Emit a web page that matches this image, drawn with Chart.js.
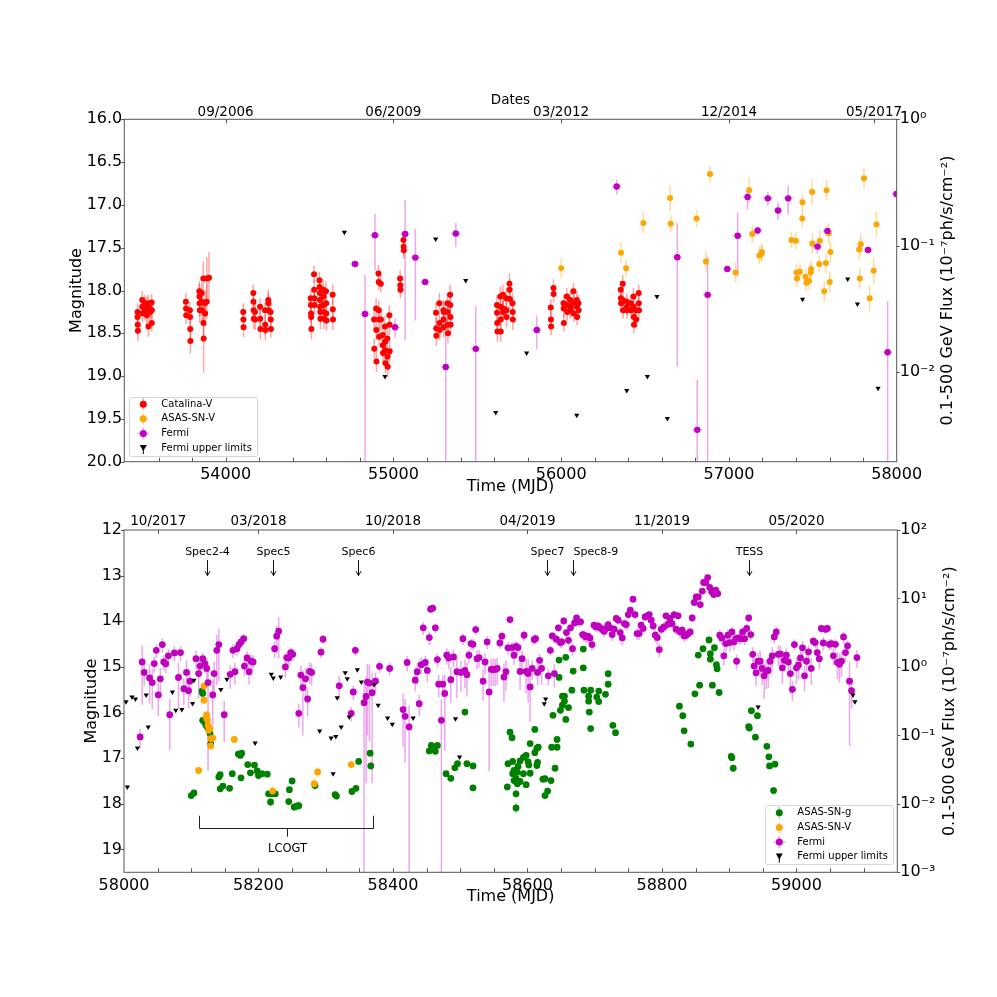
<!DOCTYPE html>
<html>
<head>
<meta charset="utf-8">
<title>Light curves</title>
<script src="https://cdn.jsdelivr.net/npm/chart.js@4.4.1/dist/chart.umd.min.js"></script>
<style>
  html, body { margin: 0; padding: 0; background: #fff; }
  #wrap { position: relative; width: 997px; height: 997px; background: #fff; }
  canvas { position: absolute; left: 0; }
  #topChart { top: 0; }
  #bottomChart { top: 500px; }
</style>
</head>
<body>
<div id="wrap">
  <canvas id="topChart" width="997" height="500"></canvas>
  <canvas id="bottomChart" width="997" height="497"></canvas>
</div>
<script>
Chart.defaults.font.family = "'DejaVu Sans', sans-serif";
Chart.defaults.color = '#000';

// ---------- axes ----------
const topMjdTicks = [54000, 55000, 56000, 57000, 58000];
const topDateTicks = [54000, 55000, 56000, 57000, 57865];
const topDateLabels = ['09/2006', '06/2009', '03/2012', '12/2014', '05/2017'];
const topMagTicks = [16, 16.5, 17, 17.5, 18, 18.5, 19, 19.5, 20];
const topFluxTicks = [1, 0.1, 0.01];

const bottomMjdTicks = [58000, 58200, 58400, 58600, 58800, 59000];
const bottomDateTicks = [58051, 58200, 58400, 58600, 58800, 59000];
const bottomDateLabels = ['10/2017', '03/2018', '10/2018', '04/2019', '11/2019', '05/2020'];
const bottomMagTicks = [12, 13, 14, 15, 16, 17, 18, 19];
const bottomFluxTicks = [100, 10, 1, 0.1, 0.01, 0.001];

// ---------- top panel: 2005-2017 ----------
// [MJD, magnitude, error]
const catalinaV = [
  [53475,18.25,0.1],[53475,18.31,0.1],[53476,18.40,0.12],[53477,18.47,0.12],
  [53503,18.11,0.1],[53503,18.19,0.1],[53504,18.27,0.1],[53519,18.15,0.1],[53520,18.23,0.12],
  [53529,18.17,0.1],[53529,18.23,0.1],[53530,18.29,0.12],[53539,18.15,0.1],[53540,18.42,0.12],
  [53549,18.21,0.1],[53550,18.25,0.12],[53559,18.14,0.1],[53560,18.23,0.1],[53560,18.38,0.1],
  [53763,18.13,0.1],[53764,18.21,0.1],[53765,18.29,0.1],
  [53787,18.23,0.1],[53788,18.31,0.1],[53789,18.45,0.12],[53790,18.59,0.15],
  [53843,18.01,0.12],[53844,18.07,0.15],[53845,18.15,0.15],[53846,18.23,0.15],
  [53857,18.03,0.12],[53858,18.13,0.15],[53859,18.23,0.15],
  [53867,17.86,0.2],[53868,18.38,0.2],[53869,18.56,0.4],
  [53877,18.15,0.15],[53878,18.27,0.15],[53887,18.13,0.2],[53888,17.86,0.25],[53901,17.85,0.3],
  [54105,18.25,0.1],[54106,18.34,0.1],[54107,18.43,0.12],
  [54165,18.03,0.1],[54166,18.13,0.12],[54167,18.23,0.12],[54168,18.33,0.12],
  [54175,18.25,0.1],[54176,18.34,0.12],
  [54205,18.19,0.1],[54206,18.33,0.12],[54207,18.45,0.12],
  [54235,18.23,0.1],[54236,18.40,0.12],[54237,18.46,0.12],
  [54254,18.11,0.12],[54255,18.15,0.12],[54256,18.23,0.1],
  [54268,18.25,0.1],[54269,18.34,0.1],[54270,18.45,0.1],
  [54507,18.09,0.1],[54508,18.17,0.1],[54509,18.27,0.1],[54510,18.31,0.12],[54511,18.45,0.12],
  [54527,17.81,0.1],[54528,17.99,0.12],[54529,18.09,0.12],[54530,18.17,0.12],
  [54559,17.88,0.1],[54560,17.96,0.1],[54561,18.03,0.12],[54562,18.11,0.12],[54563,18.19,0.12],[54564,18.25,0.12],[54565,18.33,0.12],
  [54582,17.99,0.12],[54583,18.07,0.12],[54584,18.17,0.12],[54585,18.25,0.12],[54586,18.33,0.12],
  [54598,18.01,0.12],[54599,18.15,0.12],[54600,18.27,0.12],[54601,18.35,0.12],
  [54638,18.05,0.12],[54639,18.22,0.12],[54640,18.34,0.12],
  [54885,18.34,0.12],[54886,18.68,0.12],[54897,18.21,0.12],[54898,18.46,0.12],[54899,18.83,0.12],
  [54911,17.80,0.1],[54912,17.90,0.1],[54913,18.23,0.12],[54914,18.34,0.12],[54915,18.54,0.12],
  [54925,17.92,0.1],[54926,18.34,0.12],[54936,18.52,0.12],[54937,18.64,0.12],[54938,18.73,0.12],
  [54950,18.42,0.12],[54951,18.60,0.12],[54952,18.70,0.12],[54953,18.85,0.12],
  [54964,18.56,0.12],[54965,18.77,0.12],[54966,18.89,0.12],
  [54976,18.29,0.12],[54977,18.40,0.12],[54978,18.71,0.12],
  [55040,17.86,0.1],[55041,17.94,0.1],[55042,17.99,0.1],
  [55060,17.41,0.1],[55061,17.49,0.1],[55062,17.53,0.1],
  [55254,18.26,0.12],[55255,18.44,0.12],[55256,18.53,0.12],
  [55274,18.15,0.12],[55275,18.38,0.12],[55276,18.46,0.12],
  [55298,18.23,0.12],[55299,18.34,0.12],[55300,18.43,0.12],[55301,18.25,0.12],
  [55322,18.15,0.12],[55323,18.25,0.12],[55324,18.40,0.12],[55325,18.50,0.12],
  [55338,18.05,0.12],[55339,18.17,0.12],[55340,18.31,0.12],[55341,18.40,0.12],
  [55617,18.17,0.12],[55618,18.26,0.12],[55619,18.38,0.12],[55620,18.48,0.12],
  [55637,18.07,0.12],[55638,18.19,0.12],[55639,18.34,0.12],[55640,18.48,0.12],
  [55653,18.05,0.12],[55654,18.21,0.12],[55655,18.25,0.12],
  [55673,18.09,0.12],[55674,18.23,0.12],[55675,18.31,0.12],
  [55692,17.92,0.12],[55693,17.99,0.12],[55694,18.10,0.12],
  [55710,18.15,0.12],[55711,18.25,0.12],[55712,18.34,0.12],
  [55938,18.20,0.1],[55939,18.34,0.1],[55940,18.42,0.1],[55954,17.97,0.1],[55955,18.04,0.1],
  [56014,18.15,0.1],[56015,18.21,0.1],[56016,18.38,0.1],
  [56034,18.07,0.1],[56035,18.17,0.1],[56036,18.25,0.1],
  [56054,18.11,0.1],[56055,18.19,0.1],[56056,18.23,0.1],
  [56073,18.01,0.1],[56074,18.15,0.1],[56075,18.27,0.1],
  [56093,18.11,0.1],[56094,18.19,0.1],[56095,18.31,0.1],[56103,18.15,0.1],[56104,18.23,0.1],
  [56355,17.99,0.1],[56356,18.09,0.1],[56357,18.15,0.1],
  [56367,17.92,0.1],[56368,18.11,0.1],[56369,18.23,0.1],
  [56391,18.13,0.1],[56392,18.19,0.1],[56393,18.23,0.1],[56415,18.15,0.1],[56416,18.23,0.1],
  [56431,18.07,0.1],[56432,18.19,0.1],[56433,18.31,0.1],[56434,18.40,0.1],
  [56446,18.23,0.1],[56447,18.34,0.1],[56462,18.03,0.1],[56463,18.15,0.1],[56464,18.23,0.1]
];

const asassnVTop = [
  [56000,17.74,0.12],[56357,17.56,0.12],[56387,17.74,0.1],[56490,17.21,0.12],
  [56649,16.92,0.15],[56653,17.22,0.1],[56807,17.16,0.1],[56863,17.66,0.12],[56887,16.64,0.1],
  [57040,17.79,0.12],[57121,16.83,0.15],[57139,17.34,0.1],[57181,17.59,0.1],[57194,17.57,0.1],[57196,17.55,0.1],
  [57373,17.41,0.1],[57399,17.42,0.1],[57403,17.79,0.1],[57406,17.86,0.1],[57423,17.78,0.1],
  [57437,17.16,0.1],[57438,16.97,0.1],[57456,17.84,0.1],[57462,17.91,0.1],[57478,17.89,0.1],
  [57488,17.79,0.1],[57490,17.75,0.1],[57496,16.85,0.15],[57497,17.45,0.12],
  [57538,17.69,0.1],[57542,17.42,0.12],[57568,18.01,0.12],[57578,17.68,0.12],[57582,16.83,0.12],
  [57595,17.33,0.12],[57601,17.90,0.12],[57605,17.55,0.12],
  [57776,17.52,0.12],[57780,17.86,0.12],[57786,17.46,0.12],[57805,16.69,0.12],
  [57839,18.09,0.15],[57863,17.77,0.15],[57879,17.23,0.15]
];

// [MJD, flux (1e-7 ph/s/cm2), error]
const fermiTop = [
  [54771,0.0718,0.004],[54831,0.0289,0.030],[54890,0.121,0.057],[55010,0.0227,0.004],
  [55070,0.124,0.106],[55131,0.0806,0.055],[55189,0.0518,0.003],[55312,0.0110,0.022],
  [55372,0.125,0.027],[55491,0.0153,0.018],[55855,0.0216,0.0065],[56331,0.294,0.040],
  [56692,0.0811,0.070],[56811,0.0035,0.0052],[56873,0.0409,0.041],[56990,0.0656,0.004],
  [57052,0.120,0.063],[57111,0.243,0.050],[57171,0.132,0.010],[57232,0.237,0.030],
  [57293,0.190,0.030],[57353,0.237,0.060],[57528,0.0985,0.012],[57587,0.131,0.006],
  [57829,0.0927,0.005],[57946,0.0144,0.022],[57998,0.257,0.010]
];
const fermiTopHalfBin = 28;

// [MJD, flux upper limit]
const fermiLimitsTop = [
  [54708,0.128],[54950,0.00924],[55252,0.113],[55431,0.053],[55610,0.0048],[55794,0.0142],
  [56093,0.00457],[56391,0.00716],[56514,0.00924],[56571,0.0397],[56633,0.0043],
  [57439,0.0378],[57708,0.0547],[57766,0.0347],[57889,0.00747]
];

// ---------- bottom panel: 2017-2020 ----------
const asassnG = [
  [58100,17.82,0.08],[58104,17.76,0.06],[58116,15.53,0.05],[58117,15.58,0.05],
  [58117,16.17,0.05],[58120,16.21,0.05],[58122,16.28,0.05],[58125,16.35,0.05],[58128,16.46,0.05],[58129,16.68,0.05],
  [58141,17.41,0.06],[58143,17.36,0.06],[58143,17.67,0.06],[58147,17.61,0.06],
  [58157,17.66,0.07],[58161,17.34,0.05],[58170,16.91,0.05],[58173,16.94,0.05],[58175,16.89,0.05],[58174,17.43,0.05],
  [58184,17.14,0.05],[58188,17.32,0.05],[58194,17.15,0.05],[58198,17.28,0.05],[58200,17.38,0.05],[58205,17.34,0.05],
  [58213,17.35,0.05],[58215,17.78,0.06],[58218,17.96,0.1],[58220,17.78,0.06],[58225,17.78,0.06],
  [58245,17.95,0.08],[58246,17.69,0.06],[58250,17.50,0.06],[58253,18.07,0.1],[58257,18.05,0.1],[58260,18.04,0.1],
  [58284,17.60,0.08],[58314,17.80,0.08],[58316,17.83,0.08],[58339,17.73,0.07],[58345,17.66,0.07],
  [58349,17.07,0.06],[58366,16.89,0.06],[58367,17.17,0.07],
  [58454,16.84,0.06],[58457,16.72,0.06],[58460,16.78,0.06],[58463,16.85,0.06],[58466,16.72,0.06],
  [58479,17.34,0.06],[58486,17.44,0.06],[58492,17.21,0.06],[58496,17.12,0.06],[58507,15.99,0.05],
  [58510,17.12,0.05],[58519,17.17,0.05],[58519,17.65,0.07],
  [58570,17.63,0.07],[58571,17.12,0.06],[58574,16.43,0.05],[58577,16.55,0.05],
  [58578,17.34,0.06],[58578,17.07,0.06],[58580,17.49,0.08],[58580,17.27,0.06],
  [58583,17.45,0.07],[58583,17.78,0.08],[58583,18.09,0.12],[58585,17.56,0.07],[58585,17.31,0.06],[58586,17.18,0.06],
  [58589,17.06,0.06],[58589,17.51,0.07],[58594,17.34,0.06],[58594,16.98,0.06],
  [58598,16.94,0.06],[58598,17.58,0.07],[58601,17.08,0.06],[58602,17.15,0.06],
  [58604,16.68,0.05],[58604,17.33,0.06],[58611,16.37,0.05],[58611,16.88,0.05],
  [58614,16.78,0.05],[58614,17.16,0.06],[58615,17.09,0.06],[58616,16.76,0.05],
  [58623,17.46,0.07],[58626,17.45,0.07],[58626,17.82,0.08],[58630,17.72,0.08],
  [58635,17.49,0.07],[58636,16.76,0.05],[58638,16.06,0.05],[58641,17.22,0.06],
  [58644,16.76,0.05],[58644,16.59,0.05],[58647,14.85,0.04],[58647,15.23,0.04],[58649,15.95,0.05],
  [58652,15.84,0.05],[58652,15.64,0.05],[58655,15.75,0.05],[58655,15.64,0.05],
  [58657,14.79,0.04],[58657,16.15,0.05],[58661,15.89,0.05],[58666,15.51,0.04],[58668,15.09,0.04],
  [58683,14.61,0.04],[58683,15.02,0.04],[58684,15.51,0.04],
  [58691,15.75,0.05],[58691,15.64,0.05],[58692,15.99,0.05],[58694,15.51,0.05],[58694,16.35,0.05],
  [58703,15.66,0.05],[58706,15.76,0.05],[58706,15.53,0.05],[58716,15.60,0.05],
  [58720,15.38,0.05],[58720,15.15,0.05],[58727,16.28,0.05],[58731,16.44,0.06],
  [58826,15.86,0.05],[58831,16.07,0.05],[58833,16.40,0.05],[58843,16.69,0.05],
  [58849,15.59,0.04],[58854,14.74,0.04],[58856,15.40,0.04],[58861,14.60,0.04],
  [58870,14.41,0.04],[58872,14.83,0.04],[58872,14.71,0.04],[58875,15.40,0.04],[58878,14.58,0.04],
  [58881,14.95,0.04],[58882,15.04,0.04],[58885,15.56,0.04],
  [58903,16.96,0.05],[58904,16.99,0.05],[58906,17.22,0.06],
  [58929,16.31,0.05],[58930,16.34,0.05],[58933,15.96,0.05],[58939,16.54,0.05],[58942,16.07,0.05],
  [58956,16.74,0.05],[58959,16.97,0.05],[58960,17.17,0.06],[58966,17.71,0.08],[58968,17.13,0.06]
];

const asassnVBottom = [
  [58111,17.27,0.08],[58119,15.42,0.06],[58119,15.73,0.06],[58122,16.10,0.08],[58123,16.05,0.08],
  [58124,16.16,0.08],[58125,16.28,0.08],[58126,16.39,0.08],[58128,16.35,0.08],[58129,16.57,0.08],
  [58129,16.73,0.08],[58132,16.56,0.08],[58164,16.59,0.07],[58221,17.72,0.12],
  [58283,17.56,0.12],[58288,17.30,0.1],[58338,17.14,0.08]
];

const fermiBottom = [
  [58024,0.095,0.03],[58027,1.18,0.9],[58030,0.83,0.3],[58038,0.69,0.4],[58042,0.59,0.35],
  [58045,1.12,0.3],[58048,1.75,0.4],[58051,0.39,0.2],[58054,0.67,0.3],[58057,2.12,0.5],
  [58059,1.18,0.3],[58062,1.11,0.3],[58066,1.45,0.4],[58068,0.20,0.14],[58075,1.60,0.4],
  [58081,0.70,0.45],[58084,1.62,0.4],[58089,0.48,0.2],[58093,0.83,0.4],[58096,0.45,0.2],
  [58098,0.62,0.25],[58107,1.32,0.4],[58111,0.80,0.45],[58113,1.03,0.3],[58117,1.32,0.3],
  [58120,1.12,0.3],[58123,0.95,0.4],[58125,0.59,0.56],[58132,0.39,0.25],[58134,0.80,0.4],
  [58138,1.75,1.2],[58141,2.12,1.5],[58149,0.20,0.12],[58158,0.78,0.3],[58162,1.75,0.4],
  [58165,0.85,0.3],[58168,1.85,0.4],[58171,2.12,0.4],[58174,2.32,0.4],[58178,2.59,0.4],
  [58179,1.03,0.3],[58183,1.35,0.35],[58186,0.85,0.3],[58189,1.21,0.3],[58192,1.18,0.3],
  [58224,1.85,0.5],[58227,2.81,1.2],[58230,3.32,2.0],[58240,1.00,0.3],[58242,1.37,0.3],
  [58245,1.35,0.3],[58248,1.62,0.3],[58251,1.53,0.3],[58260,0.21,0.08],[58263,0.76,0.3],
  [58266,0.50,0.4],[58270,0.67,0.3],[58273,0.34,0.15],[58276,0.86,0.3],[58279,0.83,0.3],
  [58293,1.64,0.3],[58296,2.54,0.4],[58320,0.53,0.2],[58338,0.21,0.05],[58341,0.43,0.1],
  [58344,1.75,0.3],[58357,0.30,0.3],[58360,0.37,0.35],[58362,0.60,0.5],[58365,0.58,0.5],
  [58369,0.42,0.4],[58374,0.62,0.2],[58380,1.02,0.2],[58395,0.95,0.2],
  [58415,0.238,0.17],[58418,0.19,0.15],[58421,1.16,0.3],[58424,0.133,0.14],[58433,0.64,0.2],
  [58436,0.85,0.3],[58439,0.29,0.1],[58442,1.08,0.3],[58445,3.72,0.8],[58448,1.16,0.3],
  [58451,0.89,0.3],[58454,2.68,0.6],[58456,6.97,0.8],[58459,7.2,0.8],[58463,3.72,0.6],
  [58466,1.28,0.3],[58468,0.56,0.2],[58472,0.166,0.17],[58474,0.56,0.2],[58477,0.41,0.35],
  [58480,1.48,0.4],[58483,1.35,0.4],[58486,0.65,0.35],[58490,1.40,0.4],[58495,0.85,0.5],
  [58501,0.83,0.4],[58504,2.59,0.5],[58507,0.89,0.4],[58510,0.77,0.4],[58513,1.48,0.3],
  [58516,2.19,0.4],[58519,2.14,0.4],[58523,3.51,0.6],[58525,1.32,0.4],[58528,1.37,0.4],
  [58534,0.62,0.3],[58537,1.18,0.4],[58540,2.32,0.5],[58543,0.43,0.4],[58546,0.92,0.4],
  [58549,0.92,0.4],[58552,0.92,0.4],[58555,0.95,0.4],[58559,2.24,0.4],[58562,2.81,0.5],
  [58565,0.71,0.4],[58568,0.85,0.4],[58571,1.90,0.4],[58574,4.92,0.6],[58577,1.92,0.4],
  [58580,1.48,0.4],[58583,2.00,0.4],[58586,1.92,0.4],[58589,0.86,0.4],[58592,1.32,0.4],
  [58595,2.90,0.5],[58598,0.86,0.45],[58601,0.80,0.5],[58604,0.51,0.35],[58607,0.95,0.3],
  [58610,2.51,0.4],[58612,2.59,0.4],[58615,0.83,0.3],[58618,1.25,0.3],[58621,0.95,0.4],
  [58631,0.74,0.2],[58634,1.75,0.3],[58637,2.84,0.4],[58640,0.80,0.3],[58643,2.54,0.4],
  [58646,3.72,0.5],[58649,2.27,0.4],[58651,2.32,0.4],[58654,4.70,0.6],[58658,3.17,0.5],
  [58661,2.45,0.4],[58664,3.72,0.5],[58667,1.85,0.4],[58670,4.39,0.6],[58673,5.20,0.6],
  [58676,4.55,0.6],[58679,4.55,0.6],[58682,2.97,0.5],[58684,2.90,0.5],[58687,2.74,0.5],
  [58690,2.80,0.5],[58693,2.65,0.5],[58696,2.12,0.4],[58699,4.06,0.6],[58702,3.84,0.6],
  [58705,3.97,0.6],[58708,3.72,0.6],[58711,3.55,0.6],[58714,3.32,0.6],[58717,3.65,0.6],
  [58720,4.16,0.6],[58723,3.72,0.6],[58726,2.97,0.6],[58729,3.55,0.6],[58732,5.10,0.7],
  [58735,4.81,0.7],[58738,3.17,0.6],[58741,2.65,0.6],[58744,4.29,0.7],[58747,4.16,0.7],
  [58750,5.82,0.8],[58753,6.74,0.8],[58757,9.75,1.0],[58760,5.82,0.8],[58763,3.07,0.6],
  [58766,3.07,0.6],[58769,4.06,0.6],[58772,3.65,0.6],[58775,5.38,0.7],[58778,5.50,0.7],
  [58781,5.82,0.7],[58784,4.81,0.7],[58787,3.97,0.6],[58790,2.90,0.6],[58793,2.68,0.6],
  [58796,1.79,0.4],[58799,3.55,0.6],[58803,3.84,0.6],[58806,5.57,0.7],[58809,4.21,0.6],
  [58812,5.10,0.7],[58815,4.29,0.6],[58818,5.82,0.7],[58821,3.55,0.6],[58824,5.57,0.7],
  [58827,3.25,0.6],[58830,3.44,0.6],[58833,2.84,0.5],[58836,2.90,0.5],[58839,3.07,0.5],
  [58842,3.25,0.5],[58845,5.20,0.7],[58848,8.73,1.0],[58851,10.5,1.2],[58854,10.5,1.2],
  [58857,8.14,1.0],[58860,12.8,1.3],[58862,17.1,1.5],[58865,17.1,1.5],[58868,20.2,1.8],
  [58871,14.5,1.5],[58874,12.5,1.3],[58877,11.4,1.2],[58880,13.2,1.3],[58883,11.8,1.2],
  [58886,2.90,0.6],[58889,2.65,0.6],[58892,1.45,0.4],[58895,2.19,0.6],[58898,2.90,0.6],
  [58901,2.27,0.6],[58904,3.25,0.6],[58907,2.32,0.6],[58910,2.59,0.5],[58911,1.21,0.3],
  [58914,2.65,0.5],[58917,2.59,0.5],[58920,3.25,0.5],[58923,2.59,0.5],[58926,3.64,0.6],
  [58929,5.20,0.7],[58932,2.97,0.5],[58935,1.53,0.4],[58937,1.03,0.3],[58940,0.82,0.3],
  [58943,1.21,0.4],[58946,1.21,0.5],[58949,0.95,0.4],[58952,0.74,0.4],[58955,0.87,0.4],
  [58958,0.89,0.4],[58961,1.21,0.4],[58964,1.45,0.5],[58967,2.74,0.5],[58970,3.25,0.6],
  [58973,1.53,0.5],[58976,1.55,0.5],[58979,0.97,0.4],[58982,1.25,0.4],[58985,1.48,0.4],
  [58988,1.18,0.4],[58991,0.80,0.4],[58994,0.47,0.15],[58997,2.12,0.4],[59000,0.97,0.4],
  [59003,1.06,0.4],[59006,1.35,0.4],[59009,1.90,0.5],[59012,0.74,0.3],[59015,1.21,0.4],
  [59018,1.66,0.4],[59022,0.95,0.4],[59025,2.37,0.4],[59028,2.27,0.4],[59031,1.62,0.4],
  [59034,1.32,0.4],[59037,3.64,0.5],[59040,2.24,0.5],[59043,3.55,0.5],[59046,3.64,0.5],
  [59049,2.14,0.4],[59052,2.19,0.4],[59055,1.45,0.4],[59058,2.14,0.4],[59061,1.16,0.5],
  [59064,1.09,0.5],[59067,1.21,0.5],[59070,2.74,0.5],[59073,1.62,0.4],[59076,2.03,0.4],
  [59079,0.62,0.55],[59082,0.45,0.2],[59090,1.37,0.4]
];

const fermiLimitsBottom = [
  [58003,0.31],[58005,0.0176],[58012,0.364],[58017,0.34],[58020,0.0654],[58033,0.39],[58036,0.133],
  [58072,0.43],[58077,0.232],[58086,0.238],[58102,0.291],[58104,0.64],[58144,0.466],[58153,0.66],
  [58195,0.0774],[58219,0.78],[58222,0.69],[58233,0.71],[58291,0.116],[58308,0.0916],[58311,0.0276],
  [58315,0.096],[58317,0.356],[58323,0.133],[58329,0.82],[58332,0.67],[58335,0.186],[58347,0.91],
  [58353,0.60],[58372,0.55],[58378,0.275],[58392,0.18],[58399,0.145],[58430,0.18],[58493,0.175],
  [58499,0.0483],[58625,0.29],[58627,0.34],[58943,0.26],[59084,0.39],[59087,0.31]
];

const specEpochs = [58123, 58222, 58348, 58629, 58668, 58930];
const specLabels = ['Spec2-4', 'Spec5', 'Spec6', 'Spec7', 'Spec8-9', 'TESS'];
const lcogtSpan = [58111, 58370];

// ---------- styling ----------
const COLORS = {
  catalina: '#ff0000', catalinaErr: 'rgba(255,0,0,0.35)',
  asasV: '#ffa500', asasVErr: 'rgba(255,165,0,0.4)',
  asasG: '#008000', asasGErr: 'rgba(0,128,0,0.35)',
  fermi: '#bf00bf', fermiErr: 'rgba(204,0,204,0.35)',
  limit: '#000000',
  spine: '#555555'
};
const FLUX_TITLE = '0.1-500 GeV Flux (10\u207B\u2077ph/s/cm\u207B\u00B2)';
const SUP = { '-': '\u207B', '0': '\u2070', '1': '\u00B9', '2': '\u00B2', '3': '\u00B3' };
const powerLabel = v => '10' + String(Math.round(Math.log10(v))).split('').map(c => SUP[c]).join('');

function pointSet(label, rows, color, errColor, radius, axis, order, halfBin) {
  return {
    label, yAxisID: axis, order, clip: 0,
    data: rows.map(([x, y, err]) => ({ x, y, err, xerr: halfBin || 0 })),
    pointRadius: radius, pointBackgroundColor: color, pointBorderWidth: 0,
    errColor, legendCross: !!halfBin || axis === 'y2'
  };
}

function limitSet(label, rows, radius) {
  return {
    label, yAxisID: 'y2', order: 1, clip: 0,
    data: rows.map(([x, y]) => ({ x, y })),
    pointStyle: 'triangle', pointRotation: 180, pointRadius: radius,
    pointBackgroundColor: COLORS.limit, pointBorderWidth: 0
  };
}

// error bars under the markers, clipped to the plot area
const errorBars = {
  id: 'errorBars',
  beforeDatasetsDraw(chart) {
    const { ctx, chartArea: a } = chart;
    const xs = chart.scales.x;
    ctx.save();
    ctx.beginPath();
    ctx.rect(a.left, a.top, a.right - a.left, a.bottom - a.top);
    ctx.clip();
    ctx.lineWidth = 1.5;
    chart.data.datasets.forEach(ds => {
      if (!ds.errColor) return;
      const ys = chart.scales[ds.yAxisID];
      ctx.strokeStyle = ds.errColor;
      ds.data.forEach(p => {
        const px = xs.getPixelForValue(p.x);
        const py = ys.getPixelForValue(p.y);
        ctx.beginPath();
        if (p.err) {
          const lo = p.y - p.err;
          const yLo = (ys.type === 'logarithmic' && lo <= 0) ? a.bottom + 10 : ys.getPixelForValue(lo);
          ctx.moveTo(px, yLo);
          ctx.lineTo(px, ys.getPixelForValue(p.y + p.err));
        }
        if (p.xerr) {
          ctx.moveTo(xs.getPixelForValue(p.x - p.xerr), py);
          ctx.lineTo(xs.getPixelForValue(p.x + p.xerr), py);
        }
        ctx.stroke();
      });
    });
    ctx.restore();
  }
};

// spines, tick marks and the right-hand axis title
const frame = {
  id: 'frame',
  afterDraw(chart, args, o) {
    const { ctx, chartArea: a, scales } = chart;
    ctx.save();
    ctx.strokeStyle = COLORS.spine;
    ctx.lineWidth = 1;
    ctx.strokeRect(a.left, a.top, a.right - a.left, a.bottom - a.top);
    ctx.beginPath();
    for (let v = o.minorStart; v < scales.x.max; v += o.minorStep) {
      const px = Math.round(scales.x.getPixelForValue(v)) + 0.5;
      ctx.moveTo(px, a.bottom);
      ctx.lineTo(px, a.bottom - 4);
    }
    scales.xTop.ticks.forEach(t => {
      const px = Math.round(scales.xTop.getPixelForValue(t.value)) + 0.5;
      ctx.moveTo(px, a.top);
      ctx.lineTo(px, a.top + 4);
    });
    scales.y.ticks.forEach(t => {
      const py = Math.round(scales.y.getPixelForValue(t.value)) + 0.5;
      ctx.moveTo(a.left - 3, py);
      ctx.lineTo(a.left, py);
    });
    scales.y2.ticks.forEach(t => {
      const py = Math.round(scales.y2.getPixelForValue(t.value)) + 0.5;
      ctx.moveTo(a.right, py);
      ctx.lineTo(a.right + 3, py);
    });
    ctx.stroke();

    ctx.translate(o.rightTitleX, (a.top + a.bottom) / 2);
    ctx.rotate(-Math.PI / 2);
    ctx.font = "16px 'DejaVu Sans'";
    ctx.fillStyle = '#000';
    ctx.textAlign = 'center';
    ctx.textBaseline = 'middle';
    ctx.fillText(FLUX_TITLE, 0, 0);
    ctx.restore();
  }
};

// framed legend in a corner of the plot area
const boxLegend = {
  id: 'boxLegend',
  afterDraw(chart, args, o) {
    const { ctx, chartArea: a } = chart;
    const w = 128, h = 59, rowH = 14.6;
    const x0 = o.side === 'left' ? a.left + 5 : a.right - 4 - w;
    const y0 = a.bottom - o.gap - h;
    ctx.save();
    ctx.globalAlpha = 0.8;
    ctx.fillStyle = '#fff';
    ctx.strokeStyle = '#cccccc';
    ctx.lineWidth = 1;
    ctx.beginPath();
    ctx.roundRect(Math.round(x0) + 0.5, Math.round(y0) + 0.5, w, h, 2);
    ctx.fill();
    ctx.stroke();
    ctx.globalAlpha = 1;
    ctx.font = "10px 'DejaVu Sans'";
    ctx.textBaseline = 'middle';
    ctx.textAlign = 'left';
    chart.data.datasets.forEach((ds, i) => {
      const cy = y0 + 7.5 + i * rowH;
      const cx = x0 + 14;
      if (ds.errColor) {
        ctx.strokeStyle = ds.errColor;
        ctx.lineWidth = 1.5;
        ctx.beginPath();
        ctx.moveTo(cx, cy - 6);
        ctx.lineTo(cx, cy + 6);
        if (ds.legendCross) {
          ctx.moveTo(cx - 6, cy);
          ctx.lineTo(cx + 6, cy);
        }
        ctx.stroke();
      }
      ctx.fillStyle = ds.pointBackgroundColor;
      ctx.beginPath();
      if (ds.pointStyle === 'triangle') {
        ctx.strokeStyle = '#000';
        ctx.lineWidth = 1;
        ctx.moveTo(cx, cy);
        ctx.lineTo(cx, cy + 6);
        ctx.stroke();
        ctx.beginPath();
        ctx.moveTo(cx - 3.5, cy - 3);
        ctx.lineTo(cx + 3.5, cy - 3);
        ctx.lineTo(cx, cy + 3);
        ctx.closePath();
      } else {
        ctx.arc(cx, cy, 3.5, 0, Math.PI * 2);
      }
      ctx.fill();
      ctx.fillStyle = '#000';
      ctx.fillText(ds.label, x0 + 32, cy);
    });
    ctx.restore();
  }
};

// spectroscopy / TESS arrows and the LCOGT bracket
const notes = {
  id: 'notes',
  afterDatasetsDraw(chart, args, o) {
    if (!o.epochs) return;
    const { ctx } = chart;
    const xs = chart.scales.x, ys = chart.scales.y;
    ctx.save();
    ctx.strokeStyle = '#111';
    ctx.fillStyle = '#000';
    ctx.lineWidth = 1;
    ctx.font = "11px 'DejaVu Sans'";
    ctx.textBaseline = 'middle';
    o.epochs.forEach((m, i) => {
      const px = Math.round(xs.getPixelForValue(m)) + 0.5;
      const tip = ys.getPixelForValue(o.arrowTo);
      ctx.textAlign = o.align[i];
      ctx.fillText(o.labels[i], px, ys.getPixelForValue(o.textAt));
      ctx.beginPath();
      ctx.moveTo(px, ys.getPixelForValue(o.arrowFrom));
      ctx.lineTo(px, tip);
      ctx.moveTo(px - 2.5, tip - 4.5);
      ctx.lineTo(px, tip);
      ctx.lineTo(px + 2.5, tip - 4.5);
      ctx.stroke();
    });
    const xa = Math.round(xs.getPixelForValue(o.bracket[0])) + 0.5;
    const xb = Math.round(xs.getPixelForValue(o.bracket[1])) + 0.5;
    const xc = Math.round((xa + xb) / 2) + 0.5;
    const yLine = Math.round(ys.getPixelForValue(o.bracketAt)) + 0.5;
    ctx.strokeStyle = '#222';
    ctx.beginPath();
    ctx.moveTo(xa, ys.getPixelForValue(o.bracketEnds));
    ctx.lineTo(xa, yLine);
    ctx.lineTo(xb, yLine);
    ctx.lineTo(xb, ys.getPixelForValue(o.bracketEnds));
    ctx.moveTo(xc, yLine);
    ctx.lineTo(xc, ys.getPixelForValue(o.bracketStem));
    ctx.stroke();
    ctx.font = "11.5px 'DejaVu Sans'";
    ctx.textAlign = 'center';
    ctx.fillText(o.bracketLabel, xc, ys.getPixelForValue(o.bracketTextAt));
    ctx.restore();
  }
};

function buildScales(p) {
  const fixed = v => ({ value: v });
  const noGrid = { display: false, drawTicks: false };
  return {
    x: {
      type: 'linear', position: 'bottom', min: p.xMin, max: p.xMax,
      grid: noGrid, border: { display: false },
      afterBuildTicks: s => { s.ticks = p.mjdTicks.map(fixed); },
      afterFit: s => { s.height = p.bottomH; },
      ticks: { font: { size: 16 }, padding: 4, maxRotation: 0, autoSkip: false, callback: v => String(v) },
      title: { display: true, text: 'Time (MJD)', font: { size: 16 }, padding: { top: 0, bottom: p.timePad } }
    },
    xTop: {
      type: 'linear', position: 'top', min: p.xMin, max: p.xMax,
      grid: noGrid, border: { display: false },
      afterBuildTicks: s => { s.ticks = p.dateTicks.map(fixed); },
      afterFit: s => { s.height = p.topH; },
      ticks: { font: { size: 13.5 }, padding: p.datePad, maxRotation: 0, autoSkip: false,
               callback: (v, i) => p.dateLabels[i] },
      title: { display: !!p.datesTitle, text: 'Dates', font: { size: 13.5 }, padding: { top: p.datesTitlePad || 0, bottom: 0 } }
    },
    y: {
      type: 'linear', position: 'left', reverse: true, min: p.magMin, max: p.magMax,
      grid: noGrid, border: { display: false },
      afterBuildTicks: s => { s.ticks = p.magTicks.map(fixed); },
      afterFit: s => { s.width = p.leftW; },
      ticks: { font: { size: 16 }, padding: 2, autoSkip: false, callback: p.magFormat },
      title: { display: true, text: 'Magnitude', font: { size: 16 }, padding: { top: p.magTitlePad, bottom: 0 } }
    },
    y2: {
      type: 'logarithmic', position: 'right', min: p.fluxMin, max: p.fluxMax,
      grid: noGrid, border: { display: false },
      afterBuildTicks: s => { s.ticks = p.fluxTicks.map(fixed); },
      afterFit: s => { s.width = p.rightW; },
      ticks: { font: { size: 16 }, padding: 3, autoSkip: false, callback: v => powerLabel(v) }
    }
  };
}

const common = { responsive: false, animation: false, events: [], layout: { padding: 0 } };

new Chart(document.getElementById('topChart'), {
  type: 'scatter',
  data: {
    datasets: [
      pointSet('Catalina-V', catalinaV, COLORS.catalina, COLORS.catalinaErr, 3, 'y', 4),
      pointSet('ASAS-SN-V', asassnVTop, COLORS.asasV, COLORS.asasVErr, 3, 'y', 3),
      pointSet('Fermi', fermiTop, COLORS.fermi, COLORS.fermiErr, 3.2, 'y2', 2, fermiTopHalfBin),
      limitSet('Fermi upper limits', fermiLimitsTop, 3)
    ]
  },
  options: {
    ...common,
    scales: buildScales({
      xMin: 53396, xMax: 58000, mjdTicks: topMjdTicks,
      dateTicks: topDateTicks, dateLabels: topDateLabels, datePad: -1,
      datesTitle: true, datesTitlePad: 91.9,
      magMin: 16, magMax: 20, magTicks: topMagTicks, magFormat: v => v.toFixed(1),
      fluxMin: 0.00196, fluxMax: 1, fluxTicks: topFluxTicks,
      topH: 119.3, bottomH: 38.3, leftW: 124.3, rightW: 100.3,
      timePad: 3.4, magTitlePad: 67.1
    }),
    plugins: {
      legend: { display: false }, tooltip: { enabled: false },
      frame: { minorStart: 53600, minorStep: 200, rightTitleX: 948.3 },
      boxLegend: { side: 'left', gap: 6 },
      notes: {}
    }
  },
  plugins: [errorBars, frame, boxLegend, notes]
});

new Chart(document.getElementById('bottomChart'), {
  type: 'scatter',
  data: {
    datasets: [
      pointSet('ASAS-SN-g', asassnG, COLORS.asasG, COLORS.asasGErr, 3.4, 'y', 4),
      pointSet('ASAS-SN-V', asassnVBottom, COLORS.asasV, COLORS.asasVErr, 3.4, 'y', 3),
      pointSet('Fermi', fermiBottom, COLORS.fermi, COLORS.fermiErr, 3.4, 'y2', 2),
      limitSet('Fermi upper limits', fermiLimitsBottom, 3)
    ]
  },
  options: {
    ...common,
    scales: buildScales({
      xMin: 58000, xMax: 59150, mjdTicks: bottomMjdTicks,
      dateTicks: bottomDateTicks, dateLabels: bottomDateLabels, datePad: 0,
      datesTitle: false,
      magMin: 12, magMax: 19.5, magTicks: bottomMagTicks, magFormat: v => String(v),
      fluxMin: 0.001, fluxMax: 100, fluxTicks: bottomFluxTicks,
      topH: 30, bottomH: 124.7, leftW: 124, rightW: 99.7,
      timePad: 90.4, magTitlePad: 82.7
    }),
    plugins: {
      legend: { display: false }, tooltip: { enabled: false },
      frame: { minorStart: 58050, minorStep: 50, rightTitleX: 950 },
      boxLegend: { side: 'right', gap: 8 },
      notes: {
        epochs: specEpochs, labels: specLabels,
        align: ['center', 'center', 'center', 'center', 'left', 'center'],
        textAt: 12.49, arrowFrom: 12.66, arrowTo: 13.0,
        bracket: lcogtSpan, bracketAt: 18.53, bracketEnds: 18.26, bracketStem: 18.72,
        bracketLabel: 'LCOGT', bracketTextAt: 18.98
      }
    }
  },
  plugins: [errorBars, frame, boxLegend, notes]
});
</script>
</body>
</html>
